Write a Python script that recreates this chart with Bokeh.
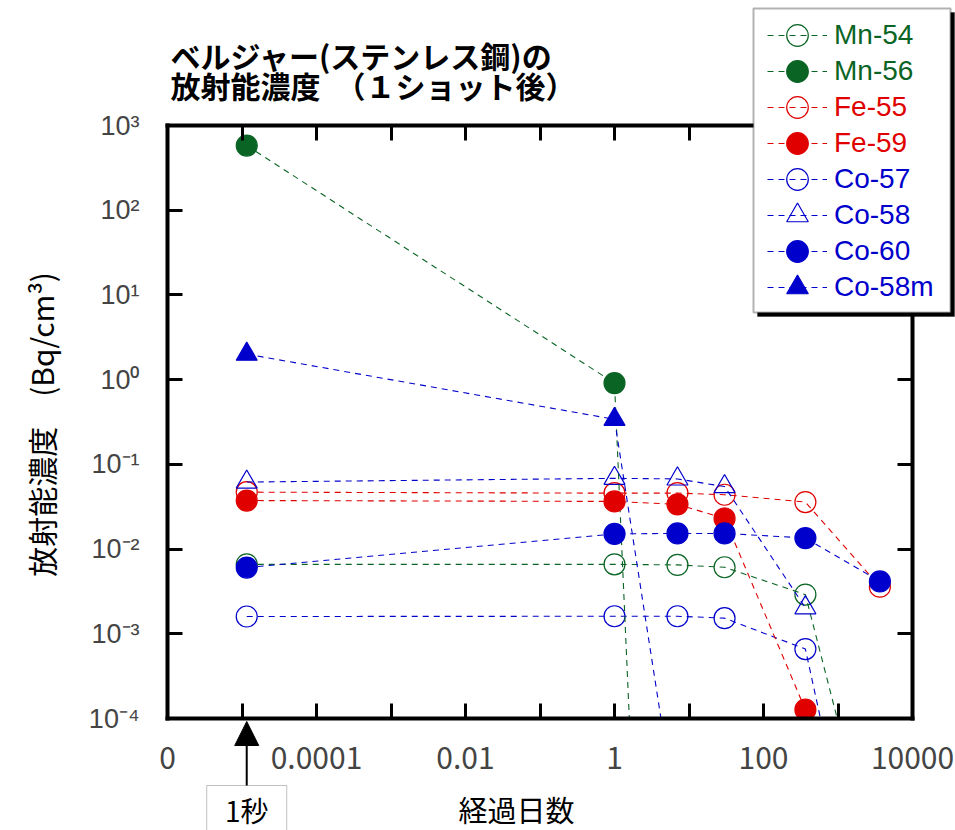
import math
from bokeh.plotting import figure
from bokeh.models import (FixedTicker, LogAxis, Legend, LegendItem, Label,
                          BoxAnnotation, Arrow, NormalHead, Range1d)
from bokeh.embed import file_html
from bokeh.resources import INLINE

# ---------------- data (elapsed days, Bq/cm3) ----------------
ONE_SECOND = 1.0 / 86400.0
times = [ONE_SECOND, 1, 7, 30, 365, 3650]
times_short = [ONE_SECOND, 1, 7]
times_5 = [ONE_SECOND, 1, 7, 30, 365]

mn54 = [0.0066, 0.0066, 0.0065, 0.0061, 0.0029, 1.1e-6]
mn56 = [580, 0.91, 1.4e-17]
fe55 = [0.047, 0.0457, 0.0458, 0.0438, 0.0359, 0.0036]
fe59 = [0.0374, 0.0365, 0.0337, 0.023, 1.27e-4]
co57 = [0.0016, 0.00161, 0.00161, 0.00153, 0.00066, 6e-8]
co58 = [0.0618, 0.0684, 0.0673, 0.0547, 0.00203]
co60 = [0.00605, 0.0151, 0.0153, 0.0153, 0.0135, 0.00415]
co58m = [2.0, 0.34, 5.6e-6]

series_names = ["Mn-54", "Mn-56", "Fe-55", "Fe-59", "Co-57", "Co-58", "Co-60", "Co-58m"]

x_tick_exps = list(range(-6, 5))
x_tick_labels = ["0", "", "0.0001", "", "0.01", "", "1", "", "100", "", "10000"]
y_tick_exps = list(range(-4, 4))
y_tick_labels = ["10⁻⁴", "10⁻³", "10⁻²", "10⁻¹", "10⁰", "10¹", "10²", "10³"]

title_lines = ["ベルジャー(ステンレス鋼)の", "放射能濃度　（１ショット後）"]
x_label = "経過日数"
y_label = "放射能濃度　(Bq/cm³)"
note_label = "1秒"

X_RANGE = (1e-6, 1e4)
Y_RANGE = (1e-4, 1e3)

GREEN = "#0a6424"
RED = "#e00000"
BLUE = "#0000cc"

# ---------------- layout constants (pixels) ----------------
W, H = 955, 830
FW, FH = 745, 593           # plot box
BL, BT = 167, 125           # plot box offset from canvas left / top
BR = W - BL - FW
BB = H - BT - FH

# canvas-wide ranges so that the plot box lands at the wanted pixels
lx0, lx1 = math.log10(X_RANGE[0]), math.log10(X_RANGE[1])
ly0, ly1 = math.log10(Y_RANGE[0]), math.log10(Y_RANGE[1])
px_per_dec_x = FW / (lx1 - lx0)
px_per_dec_y = FH / (ly1 - ly0)
XS = 10 ** (lx0 - BL / px_per_dec_x)
XE = 10 ** (lx1 + BR / px_per_dec_x)
YS = 10 ** (ly0 - BB / px_per_dec_y)
YE = 10 ** (ly1 + BT / px_per_dec_y)

p = figure(width=W, height=H, x_axis_type="log", y_axis_type="log",
           x_range=Range1d(XS, XE), y_range=Range1d(YS, YE), output_backend="svg",
           toolbar_location=None, min_border=0, min_border_left=0,
           min_border_right=0, min_border_top=0, min_border_bottom=0)
p.xgrid.visible = False
p.ygrid.visible = False
p.outline_line_color = None
p.background_fill_color = "white"
p.border_fill_color = "white"

x_ticks = [float(f"1e{k}") for k in x_tick_exps]
y_ticks = [float(f"1e{k}") for k in y_tick_exps]

def style_axis(ax):
    ax.axis_line_width = 4
    ax.axis_line_color = "black"
    ax.axis_line_cap = "square"
    ax.major_tick_in = 15
    ax.major_tick_out = 0
    ax.major_tick_line_width = 3
    ax.minor_tick_line_color = None

xa = p.xaxis[0]
xa.ticker = FixedTicker(ticks=x_ticks)
xa.bounds = X_RANGE
xa.fixed_location = Y_RANGE[0]
xa.major_label_overrides = {t: lab for t, lab in zip(x_ticks, x_tick_labels)}
style_axis(xa)
xa.major_label_text_font = "Noto Sans CJK JP"
xa.major_label_text_font_size = "30px"
xa.major_label_standoff = 28

ya = p.yaxis[0]
ya.ticker = FixedTicker(ticks=y_ticks)
ya.bounds = Y_RANGE
ya.fixed_location = X_RANGE[0]
ya.major_label_overrides = {t: lab for t, lab in zip(y_ticks, y_tick_labels)}
style_axis(ya)
ya.major_label_text_font = "Liberation Sans"
ya.major_label_text_font_size = "27px"
ya.major_label_text_baseline = "top"
ya.major_label_standoff = 28

top_ax = LogAxis(ticker=FixedTicker(ticks=x_ticks), bounds=X_RANGE,
                 fixed_location=Y_RANGE[1],
                 major_label_overrides={t: "" for t in x_ticks},
                 major_label_text_font_size="10px", major_label_text_color=None)
style_axis(top_ax)
p.add_layout(top_ax, "above")
right_ax = LogAxis(ticker=FixedTicker(ticks=y_ticks), bounds=Y_RANGE,
                   fixed_location=X_RANGE[1],
                   major_label_overrides={t: "" for t in y_ticks},
                   major_label_text_font_size="10px", major_label_text_color=None)
style_axis(right_ax)
p.add_layout(right_ax, "right")

# ---------------- series ----------------
spec = [
    (times, mn54, GREEN, "circle", False),
    (times_short, mn56, GREEN, "circle", True),
    (times, fe55, RED, "circle", False),
    (times_5, fe59, RED, "circle", True),
    (times, co57, BLUE, "circle", False),
    (times_5, co58, BLUE, "triangle", False),
    (times, co60, BLUE, "circle", True),
    (times_short, co58m, BLUE, "triangle", True),
]
draw_order = [0, 2, 4, 5, 1, 3, 6, 7]
renderers = {}
for i in draw_order:
    xs, ys, col, mk, filled = spec[i]
    lr = p.line(xs, ys, line_color=col, line_width=1.1, line_dash="6 5",
                level="underlay")
    sr = p.scatter(xs, ys, marker=mk, size=21, line_color=col, line_width=1.2,
                   fill_color=col if filled else None,
                   fill_alpha=1.0 if filled else 0.0, level="underlay")
    renderers[i] = (lr, sr)

# white masks outside the plot box (data drawn beyond the axes is hidden)
mask_kw = dict(fill_color="white", fill_alpha=1.0, line_color=None, level="glyph")
p.add_layout(BoxAnnotation(left=XS, right=XE, bottom=YS, top=Y_RANGE[0], **mask_kw))
p.add_layout(BoxAnnotation(left=XS, right=XE, bottom=Y_RANGE[1], top=YE, **mask_kw))
p.add_layout(BoxAnnotation(left=XS, right=X_RANGE[0], bottom=YS, top=YE, **mask_kw))
p.add_layout(BoxAnnotation(left=X_RANGE[1], right=XE, bottom=YS, top=YE, **mask_kw))

# ---------------- helpers for page-pixel placement ----------------
def fy(sy):
    return H - sy

def sbox(l, r, t, b, **kw):
    return BoxAnnotation(left=l, right=r, top=fy(t), bottom=fy(b),
                         left_units="screen", right_units="screen",
                         top_units="screen", bottom_units="screen", **kw)

# ---------------- axis titles ----------------
p.add_layout(Label(x=516, y=fy(808), x_units="screen", y_units="screen", text=x_label,
                   text_font="Noto Sans CJK JP", text_font_size="29px",
                   text_align="center", text_baseline="middle", text_color="black"))
p.add_layout(Label(x=40, y=fy(424), x_units="screen", y_units="screen", text=y_label,
                   angle=math.pi / 2, text_font="Noto Sans CJK JP", text_font_size="30px",
                   text_align="center", text_baseline="middle", text_color="black"))

# ---------------- legend (boxed, with shadow) ----------------
p.add_layout(sbox(757, 954, 12, 316, fill_color="black", fill_alpha=1.0,
                  line_color="black"))
p.add_layout(sbox(753, 950, 8, 312, fill_color="white", fill_alpha=1.0,
                  line_color="black", line_width=2))

GH = 54
for i, name in enumerate(series_names):
    col = spec[i][2]
    yc = 34.5 + i * 36.1
    leg = Legend(items=[LegendItem(label=name, renderers=list(renderers[i]))],
                 location=(767, fy(yc) - GH / 2),
                 padding=0, margin=0, spacing=0, glyph_width=60, glyph_height=GH,
                 label_height=GH, label_standoff=7,
                 label_text_font="Liberation Sans",
                 label_text_font_size="28px", label_text_color=col,
                 border_line_color=None, background_fill_alpha=0.0)
    p.add_layout(leg)

# ---------------- title ----------------
for k, line in enumerate(title_lines):
    p.add_layout(Label(x=170, y=fy(54.5 + 30 * k), x_units="screen", y_units="screen",
                       text=line, text_font="Noto Sans CJK JP", text_font_style="bold",
                       text_font_size="30px", text_baseline="middle", text_color="black"))

# ---------------- "1 second" marker below the axis ----------------
ax_x = BL + (math.log10(ONE_SECOND) - lx0) * px_per_dec_x
p.add_layout(sbox(ax_x - 40, ax_x + 40, 785, 845, fill_color="white", fill_alpha=1.0,
                  line_color="#333333", line_width=1))
p.add_layout(Arrow(x_start=ax_x, y_start=fy(785), x_end=ax_x, y_end=fy(721),
                   start_units="screen", end_units="screen", line_width=2,
                   line_color="black",
                   end=NormalHead(size=24, fill_color="black", line_color="black")))
p.add_layout(Label(x=ax_x, y=fy(809), x_units="screen", y_units="screen",
                   text=note_label, text_font="Noto Sans CJK JP", text_font_size="28px",
                   text_align="center", text_baseline="middle", text_color="black"))

open("out.html", "w").write(file_html(p, INLINE))
